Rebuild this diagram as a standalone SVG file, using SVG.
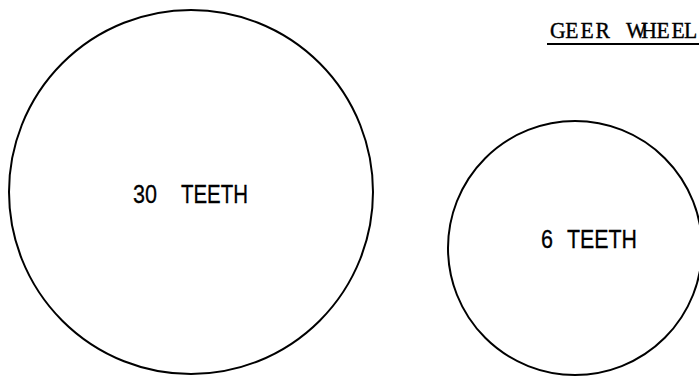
<svg xmlns="http://www.w3.org/2000/svg" width="699" height="377" viewBox="0 0 699 377">
<style>
.gear{fill:none;stroke:#000;stroke-width:2}
.lbl{font-family:"Liberation Sans","DejaVu Sans",sans-serif;font-size:26px;fill:#000;stroke:#000;stroke-width:0.3}
.title{font-family:"Liberation Serif","Times New Roman",serif;font-size:24px;fill:#000;stroke:#000;stroke-width:0.4}
</style>
<rect width="699" height="377" fill="#fff"/>
<g id="title">
<text class="title" transform="scale(0.9,1)" x="611.11 628 644.89 661.78 678.67 695.56 712.44 729.33 746.22 760" y="38">GEER WHEEL</text>
<line x1="547" y1="44" x2="699" y2="44" stroke="#000" stroke-width="2"/>
</g>
<g id="gear30">
<circle class="gear" cx="191" cy="192" r="182"/>
<text class="lbl" y="203"><tspan x="133" textLength="24" lengthAdjust="spacingAndGlyphs">30</tspan> <tspan x="181" textLength="67" lengthAdjust="spacingAndGlyphs">TEETH</tspan></text>
</g>
<g id="gear6">
<circle class="gear" cx="575" cy="248" r="127"/>
<text class="lbl" y="248"><tspan x="541" textLength="12" lengthAdjust="spacingAndGlyphs">6</tspan> <tspan x="567" textLength="70" lengthAdjust="spacingAndGlyphs">TEETH</tspan></text>
</g>
<g id="connectors"/>
</svg>
